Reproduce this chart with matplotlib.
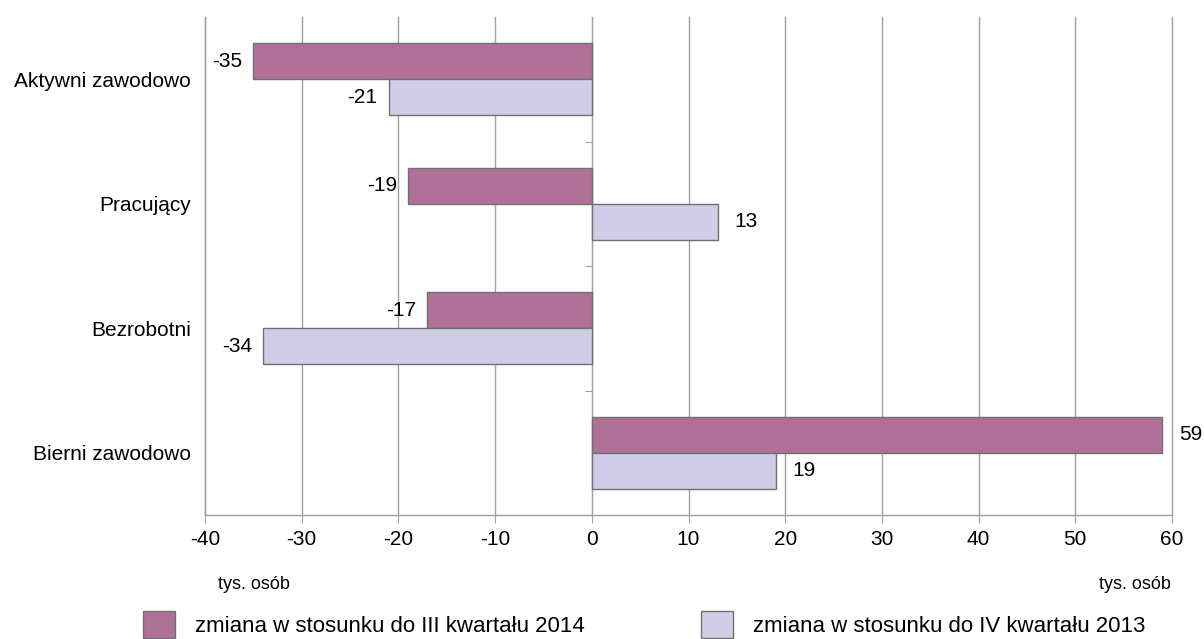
import numpy as np
import matplotlib
matplotlib.use("Agg")
import matplotlib.pyplot as plt
from matplotlib.patches import Patch

plt.rcParams['font.family'] = ['Liberation Sans', 'DejaVu Sans']

# data (tys. osób)
categories = ['Aktywni zawodowo', 'Pracujący', 'Bezrobotni', 'Bierni zawodowo']
vs_q3_2014 = [-35, -19, -17, 59]
vs_q4_2013 = [-21, 13, -34, 19]
series_labels = ['zmiana w stosunku do III kwartału 2014',
                 'zmiana w stosunku do IV kwartału 2013']
xticks = [-40, -30, -20, -10, 0, 10, 20, 30, 40, 50, 60]

col1 = '#B07098'
col2 = '#D1CDE6'
edge = '#707070'
grid = '#A0A0A0'

fig = plt.figure(figsize=(12.04, 6.39), dpi=100)
ax = fig.add_axes([205 / 1204, 1 - 515 / 639, (1172 - 205) / 1204, (515 - 17) / 639])

y = np.arange(len(categories))
h = 0.29
ax.barh(y - h / 2, vs_q3_2014, height=h, color=col1, edgecolor=edge, linewidth=1, zorder=3)
ax.barh(y + h / 2, vs_q4_2013, height=h, color=col2, edgecolor=edge, linewidth=1, zorder=3)

# value labels
for ys, vals in [(y - h / 2, vs_q3_2014), (y + h / 2, vs_q4_2013)]:
    for yy, v in zip(ys, vals):
        off = 12 if v > 0 else -8
        ax.annotate(str(v), (v, yy), xytext=(off, 0), textcoords='offset points',
                    ha='left' if v > 0 else 'right', va='center', fontsize=15, zorder=4)

ax.set_xlim(-40, 60)
ax.set_ylim(len(categories) - 0.5, -0.5)
ax.set_xticks(xticks)
ax.set_xticklabels([str(t) for t in xticks], fontsize=15)
ax.set_yticks(y)
ax.set_yticklabels(categories, fontsize=15)
ax.tick_params(axis='y', length=0, pad=10)
ax.tick_params(axis='x', length=6, color=grid, pad=5)
ax.grid(axis='x', color=grid, linewidth=1, zorder=0, clip_on=False)

for s in ['top', 'right']:
    ax.spines[s].set_visible(False)
for s in ['left', 'bottom']:
    ax.spines[s].set_color(grid)
    ax.spines[s].set_linewidth(1)

# zero axis with category separator ticks
sec = ax.secondary_yaxis(0.4)
sec.set_yticks(y[:-1] + 0.5)
sec.set_yticklabels([])
sec.tick_params(length=5, color=grid)
sec.spines['left'].set_color(grid)

ax.text(0.013, -0.14, 'tys. osób', transform=ax.transAxes, fontsize=13, ha='left', va='center')
ax.text(0.925, -0.14, 'tys. osób', transform=ax.transAxes, fontsize=13, ha='left', va='center')

handles = [Patch(facecolor=col1, edgecolor=edge), Patch(facecolor=col2, edgecolor=edge)]
fig.legend(handles, series_labels, loc='lower left', bbox_to_anchor=(143 / 1204, 1 / 639), ncol=2,
           frameon=False, fontsize=16, handlelength=1.45, handleheight=1.5, borderpad=0,
           borderaxespad=0, columnspacing=5.2, handletextpad=0.9)

fig.savefig('out.png', dpi=100)
